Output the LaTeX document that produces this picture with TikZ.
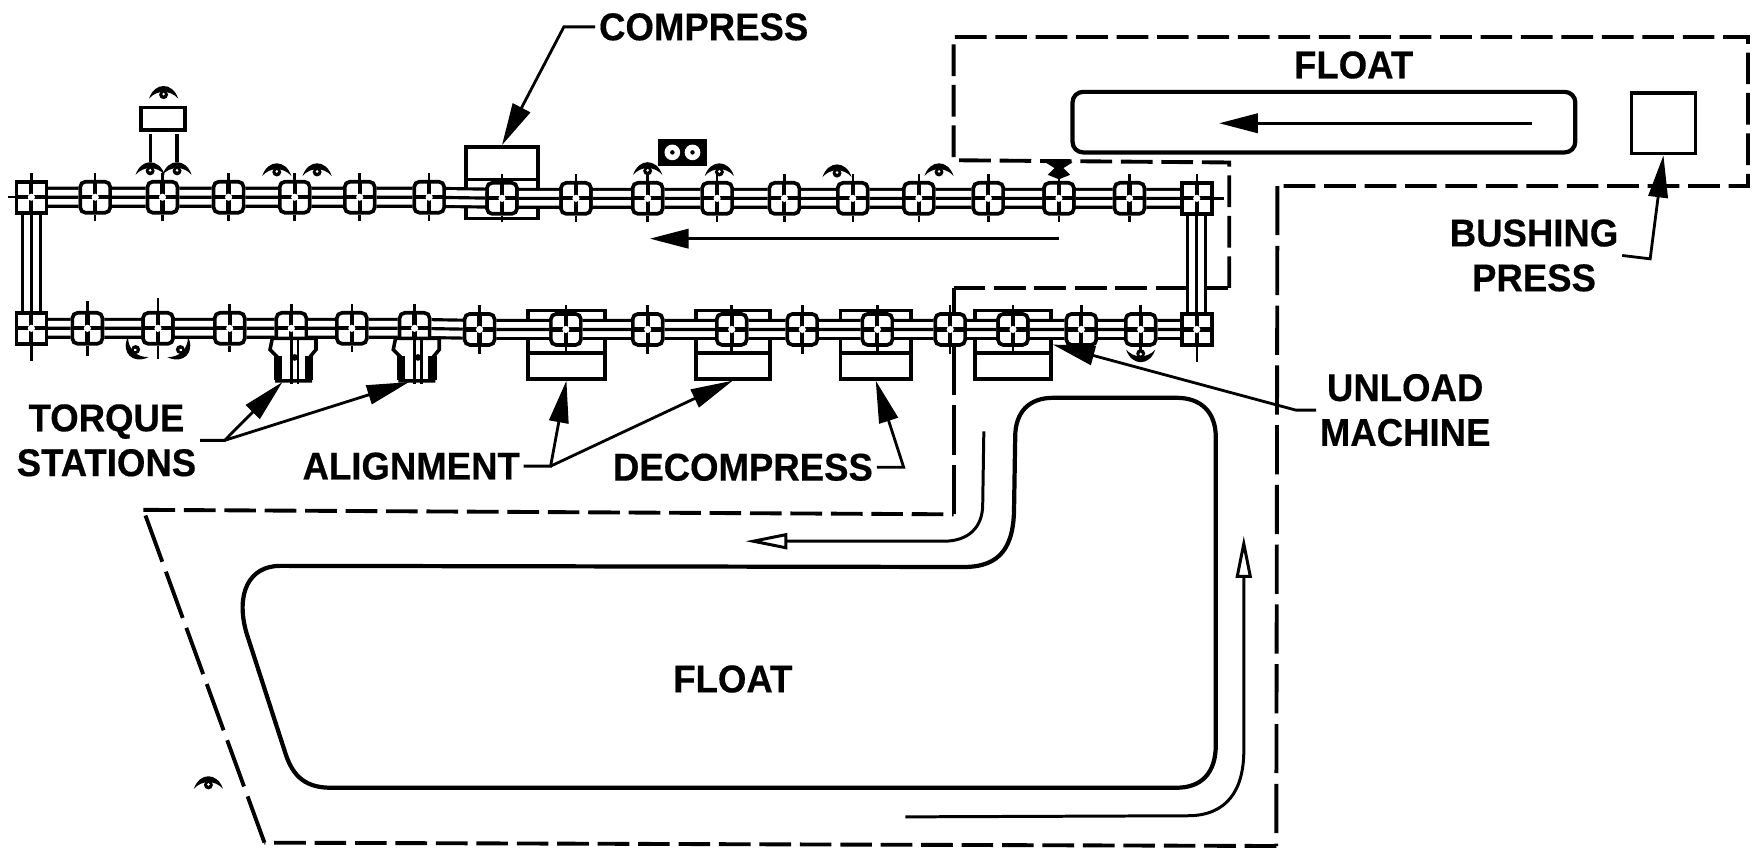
\documentclass[tikz,border=0pt]{standalone}
\usepackage{fontspec}
\usetikzlibrary{arrows.meta}
\newfontfamily\lblfont[FakeStretch=0.945,BoldFeatures={FakeBold=0.4}]{Liberation Sans}
\begin{document}
\begin{tikzpicture}[
          x=0.0224cm, y=-0.0224cm,
          station/.style={draw, fill=white, line width=2.1pt, rounded corners=3pt, inner sep=0pt,
            minimum width=0.6cm, minimum height=0.62cm,
            path picture={
              \draw[line width=2.4pt] (path picture bounding box.north) -- (path picture bounding box.south);
              \draw[line width=2.4pt] (path picture bounding box.west) -- (path picture bounding box.east);
              \fill (path picture bounding box.center) circle (3.2);
            },
            append after command={
              (\tikzlastnode.north) edge[stub] +(0,-6)
              (\tikzlastnode.south) edge[stub] +(0,6)
            }},
          endstation/.style={station, rounded corners=0pt},
          stub/.style={line width=1.4pt},
          unitbox/.style={draw, line width=2pt, inner sep=0pt},
          rail/.style={line width=1.8pt, preaction={draw, line width=12pt}, preaction={draw=white, line width=8.4pt}},
          floatline/.style={line width=2.2pt, dash pattern=on 18pt off 5pt},
          longdash/.style={line width=2.2pt, dash pattern=on 28pt off 6pt},
          loopline/.style={line width=2.4pt},
          leader/.style={line width=1.6pt, -{Triangle[length=24pt, width=11pt]}},
          flowblack/.style={line width=1.5pt, -{Triangle[length=22pt, width=11pt]}},
          flowopen/.style={line width=1.7pt, -{Triangle[open, length=24pt, width=9pt, fill=white]}},
          lbl/.style={font=\lblfont\bfseries\fontsize{22}{25.5}\selectfont, align=center, inner sep=2pt},
          eye/.pic={
            \fill (-13,5) .. controls (-8,-10) and (8,-10) .. (13,5) .. controls (6,-3) and (-6,-3) .. cycle;
            \fill (0,1.5) circle (4);
            \fill[white] (0,1) circle (1.3);
          },
          eyeshut/.pic={
            \fill (-12,-6) -- (12,-6) -- (4,-1) -- (10,5) -- (0,9) -- (-10,5) -- (-4,-1) -- cycle;
          },
          torque/.pic={
            \filldraw[fill=white, line width=2pt] (-17,9) -- (22,9) -- (22,19) -- (17,25) -- (17,47) -- (-13,47) -- (-13,25) -- (-19,19) -- cycle;
            \draw[line width=4.6pt] (-12,25) -- (-12,46);
            \draw[line width=4.6pt] (16,25) -- (16,46);
            \draw[line width=1.4pt] (0,9) -- (0,50);
            \draw[line width=1.4pt] (6,9) -- (6,50);
            \fill (3,26) circle (3);
          }
        ]
        \useasboundingbox (0,0) rectangle (1568,758);

        % Dashed floor outline
        \coordinate (fa) at (1097,257);
        \coordinate (fb) at (1097,145);
        \coordinate (fc) at (851,143);
        \coordinate (fd) at (851,33);
        \coordinate (fe) at (1560,33);
        \coordinate (ff) at (1560,166);
        \coordinate (fg) at (1140,166);
        \coordinate (fh) at (1139,755);
        \coordinate (fi) at (236,752);
        \coordinate (fj) at (128,455);
        \coordinate (fk) at (851,459);
        \coordinate (fl) at (851,257);
        \draw[floatline] (fa) -- (fb) -- (fc) -- (fd) -- (fe) -- (ff) -- (fg);
        \draw[longdash] (fg) -- (fh);
        \draw[floatline] (fh) -- (fi);
        \draw[longdash] (fi) -- (fj);
        \draw[floatline] (fj) -- (fk);
        \draw[longdash] (fk) -- (fl);
        \draw[floatline] (fl) -- (fa);

        % Machine boxes
        \node[unitbox, minimum width=1.43cm, minimum height=1.43cm] (ucompress) at (448,163) {};
        \node[unitbox, minimum width=1.54cm, minimum height=1.37cm] (ualigna) at (505.5,307.5) {};
        \node[unitbox, minimum width=1.48cm, minimum height=1.37cm] (ualignb) at (654,307.5) {};
        \node[unitbox, minimum width=1.41cm, minimum height=1.37cm] (udecomp) at (781.5,307.5) {};
        \node[unitbox, minimum width=1.52cm, minimum height=1.37cm] (uunload) at (904,307.5) {};
        \draw[line width=2pt] (ucompress.west |- 0,160) -- (ucompress.east |- 0,160);
        \draw[line width=2pt] (ualigna.west |- 0,315) -- (ualigna.east |- 0,315);
        \draw[line width=2pt] (ualignb.west |- 0,315) -- (ualignb.east |- 0,315);
        \draw[line width=2pt] (udecomp.west |- 0,315) -- (udecomp.east |- 0,315);
        \draw[line width=2pt] (uunload.west |- 0,315) -- (uunload.east |- 0,315);

        % Top row
        \node[endstation] (ta) at (28,176) {};
        \node[station] (tb) at (85,176) {};
        \node[station] (tc) at (145,176) {};
        \node[station] (td) at (204,176) {};
        \node[station] (te) at (263,176) {};
        \node[station] (tf) at (321,176) {};
        \node[station] (tg) at (383,176) {};
        \node[station] (th) at (448,177) {};
        \node[station] (ti) at (514,177) {};
        \node[station] (tj) at (578,177) {};
        \node[station] (tk) at (640,177) {};
        \node[station] (tl) at (700,177) {};
        \node[station] (tm) at (761,177) {};
        \node[station] (tn) at (820,177) {};
        \node[station] (to) at (882,177) {};
        \node[station] (tp) at (945,177) {};
        \node[station] (tq) at (1008,177) {};
        \node[endstation] (tr) at (1068,177) {};

        % Bottom row
        \node[endstation] (ba) at (28,293) {};
        \node[station] (bb) at (78,293) {};
        \node[station] (bc) at (141,293) {};
        \node[station] (bd) at (205,293) {};
        \node[station] (be) at (260,293) {};
        \node[station] (bf) at (314,293) {};
        \node[station] (bg) at (370,293) {};
        \node[station] (bh) at (428,294) {};
        \node[station] (bi) at (505,294) {};
        \node[station] (bj) at (578,294) {};
        \node[station] (bk) at (653,294) {};
        \node[station] (bl) at (716,294) {};
        \node[station] (bm) at (783,294) {};
        \node[station] (bn) at (848,294) {};
        \node[station] (bo) at (904,294) {};
        \node[station] (bp) at (965,294) {};
        \node[station] (bq) at (1018,294) {};
        \node[endstation] (br) at (1068,294) {};

        % Rails
        \draw[rail] (ta) -- (tb) -- (tc) -- (td) -- (te) -- (tf) -- (tg) -- (th) -- (ti) -- (tj) -- (tk) -- (tl) -- (tm) -- (tn) -- (to) -- (tp) -- (tq) -- (tr);
        \draw[rail] (ba) -- (bb) -- (bc) -- (bd) -- (be) -- (bf) -- (bg) -- (bh) -- (bi) -- (bj) -- (bk) -- (bl) -- (bm) -- (bn) -- (bo) -- (bp) -- (bq) -- (br);
        \draw[rail] (ta) -- (ba);
        \draw[rail] (tr) -- (br);

        % Longer ticks
        \draw[stub] (ta.west) -- +(-6,0);
        \draw[stub] (tr.east) -- +(9,0);
        \draw[stub] (ba.south) -- +(0,14);
        \draw[stub] (br.south) -- +(0,14);
        \draw[stub] (bc.north) -- +(0,-12);
        \draw[stub] (bc.south) -- +(0,12);
        \draw[stub] (bb.north) -- +(0,-9);
        \draw[stub] (bb.south) -- +(0,9);

        % Torque heads
        \pic at (260,293) {torque};
        \pic at (370,293) {torque};
        \coordinate (qa) at (252,341);
        \coordinate (qb) at (365,341);

        % Inspection points
        \pic at (146,83) {eye};
        \node[unitbox, minimum width=0.88cm, minimum height=0.45cm] (gauge) at (145.5,106) {};
        \coordinate (gaugel) at (134,120);
        \coordinate (gauger) at (158,120);
        \draw[line width=1.8pt] (gaugel) -- +(0,25);
        \draw[line width=1.8pt] (gauger) -- +(0,25);
        \pic at (134,151) {eye};
        \pic at (158,151) {eye};
        \pic at (247,152) {eye};
        \pic at (283,152) {eye};
        \pic at (578,151) {eye};
        \pic at (642,152) {eye};
        \pic at (747,153) {eye};
        \pic at (838,152) {eye};
        \pic at (945,151) {eyeshut};
        \pic[rotate=135] at (120,313) {eye};
        \pic[rotate=-135] at (162,313) {eye};
        \pic[rotate=180] at (1018,317) {eye};
        \pic at (186,699) {eye};

        % Small gauge block
        \node[unitbox, fill=black, minimum width=0.9cm, minimum height=0.47cm] (block) at (609,136) {};
        \fill[white] (600,136) circle (7);
        \fill[white] (618,136) circle (7);
        \fill (600,136) circle (2);
        \fill (618,136) circle (2);

        % Upper float
        \node[draw, line width=2.4pt, rounded corners=6pt, minimum width=10.05cm, minimum height=1.21cm] (uppfloat) at (1181.5,109) {};
        \node[unitbox, minimum width=1.28cm, minimum height=1.21cm] (bushing) at (1484.5,110) {};
        \coordinate (upa) at (1367,110);
        \coordinate (upb) at (1088,110);
        \draw[flowblack] (upa) -- (upb);
        \coordinate (mida) at (945,213);
        \coordinate (midb) at (580,213);
        \draw[flowblack] (mida) -- (midb);

        % Lower float
        \draw[loopline] (250,505) -- (860,506) .. controls (893,506) and (905,488) .. (905,452)
          -- (906,390) .. controls (906,368) and (918,355) .. (940,355) -- (1050,355)
          .. controls (1072,355) and (1085,368) .. (1085,390) -- (1085,665)
          .. controls (1085,690) and (1072,703) .. (1050,703) -- (295,703)
          .. controls (270,703) and (260,690) .. (254,670) -- (220,565)
          .. controls (210,530) and (222,505) .. (250,505) -- cycle;
        \draw[flowopen] (808,729) -- (1060,728) .. controls (1095,728) and (1110,705) .. (1110,670) -- (1110,478);
        \draw[flowopen] (878,385) -- (877,450) .. controls (877,471) and (864,483) .. (842,483) -- (665,483);

        % Labels
        \node[lbl] (lcompress) at (628,24) {COMPRESS};
        \node[lbl] (ftop) at (1208,58) {FLOAT};
        \node[lbl] (fbot) at (654,606) {FLOAT};
        \node[lbl] (lbush) at (1369,228) {BUSHING\\PRESS};
        \node[lbl] (ltorque) at (95,393) {TORQUE\\STATIONS};
        \node[lbl] (lalign) at (367,416) {ALIGNMENT};
        \node[lbl] (ldecomp) at (663,417) {DECOMPRESS};
        \node[lbl] (lunload) at (1254,366) {UNLOAD\\MACHINE};

        % Leaders
        \draw[leader] (lcompress.west) -- +(-28,0) -- (ucompress.north);
        \draw[leader] (ltorque.east) -- +(22,0) coordinate (qfork) -- (qa);
        \draw[leader] (qfork) -- (qb);
        \draw[leader] (lalign.east) -- +(24,0) coordinate (afork) -- (ualigna.south);
        \draw[leader] (afork) -- (ualignb.south);
        \draw[leader] (ldecomp.east) -- +(24,0) -- (udecomp.south);
        \draw[leader] (lunload.west) -- +(-18,0) -- (uunload.east);
        \draw[leader] (lbush.east) -- +(25,3) -- (bushing.south);

      \end{tikzpicture}
\end{document}
